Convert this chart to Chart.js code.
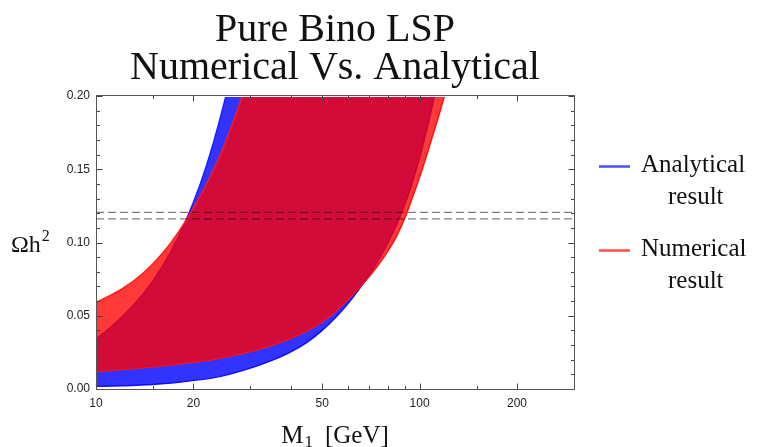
<!DOCTYPE html>
<html>
<head>
<meta charset="utf-8">
<title>Pure Bino LSP</title>
<script src="https://cdn.jsdelivr.net/npm/chart.js@4.4.1/dist/chart.umd.min.js"></script>
<style>
  html, body { margin: 0; padding: 0; background: #fff; }
  #wrap { width: 761px; height: 447px; }
</style>
</head>
<body>
<div id="wrap"><canvas id="relic" width="761" height="447"></canvas></div>
<script>
"use strict";
// Relic density band for a pure bino LSP: analytical vs numerical Omega h^2 against M1.
// Each band is bounded by an upper and a lower curve; where the upper curve leaves the
// frame the band boundary runs along the top of the plot (y = Y_MAX).

const X_MIN = 10, X_MAX = 300, Y_MIN = 0, Y_MAX = 0.2;

// analytical band (blue)
const blueUpperX = [10, 11, 12, 13, 14, 15, 16, 17, 18, 19, 20, 21, 22, 23, 24, 25.2, 111.3];
const blueUpperY = [0.034, 0.0415, 0.049, 0.0568, 0.065, 0.0738, 0.0833, 0.0935, 0.1043, 0.1156, 0.1274, 0.1399, 0.1532, 0.1672, 0.182, 0.200, 0.200];
const blueLowerX = [10, 12, 15, 18, 20, 23, 26, 30, 35, 40, 45, 50, 55, 60, 65, 70, 75, 80, 85, 90, 95, 100, 105, 111.3];
const blueLowerY = [0.0018, 0.0022, 0.0031, 0.0046, 0.0058, 0.0076, 0.0102, 0.0142, 0.0195, 0.0253, 0.0320, 0.0400, 0.0488, 0.0582, 0.0680, 0.0783, 0.0890, 0.1003, 0.1125, 0.1260, 0.1410, 0.1578, 0.1760, 0.2000];

// numerical band (red)
const redUpperX = [10, 11, 12, 13, 14, 15, 16, 17, 18, 19, 20, 21, 22, 23, 24, 25, 26, 27, 28.35, 119.4];
const redUpperY = [0.059, 0.0635, 0.0682, 0.0734, 0.0792, 0.0855, 0.0923, 0.0996, 0.1073, 0.1153, 0.1235, 0.1318, 0.1403, 0.1490, 0.1580, 0.1673, 0.1769, 0.1868, 0.200, 0.200];
const redLowerX = [10, 12, 15, 18, 20, 23, 26, 30, 35, 40, 45, 50, 55, 60, 65, 70, 75, 80, 85, 90, 95, 100, 105, 110, 115, 119.4];
const redLowerY = [0.0121, 0.0132, 0.0151, 0.0170, 0.0183, 0.0201, 0.0224, 0.0256, 0.0298, 0.0345, 0.0398, 0.0458, 0.0530, 0.0610, 0.0690, 0.0770, 0.0855, 0.0945, 0.1045, 0.1165, 0.1305, 0.1445, 0.1590, 0.1735, 0.1875, 0.2000];

// observed relic density window (dashed)
const relicLines = [0.1161, 0.1206];

// axes
const xTicks = [10, 20, 50, 100, 200];
const xMinorTicks = [15, 30, 40, 60, 70, 80, 90, 150, 300];
const yTicks = [0, 0.05, 0.10, 0.15, 0.20];
const yMinorTicks = [0.01, 0.02, 0.03, 0.04, 0.06, 0.07, 0.08, 0.09, 0.11, 0.12, 0.13, 0.14, 0.16, 0.17, 0.18, 0.19];

const titleLines = ["Pure Bino LSP", "Numerical Vs. Analytical"];
const legendLabels = [["Analytical", "result"], ["Numerical", "result"]];
const legendColors = ["#4d4dff", "#ff4d4d"];

const SERIF = "'Liberation Serif', 'Times New Roman', serif";
const SANS = "'Liberation Sans', Arial, sans-serif";

const pts = (xs, ys) => xs.map((x, i) => ({ x, y: ys[i] }));

function bandEdge(data, stroke, fill, order, smooth) {
  return {
    data, order, showLine: true, pointRadius: 0, pointHoverRadius: 0,
    borderColor: stroke, borderWidth: 1.4,
    backgroundColor: fill || "rgba(0,0,0,0)",
    fill: fill ? "+1" : false,
    cubicInterpolationMode: smooth ? "monotone" : "default",
    // keep the stroke off the stretch that runs along the top of the frame
    clip: { left: 0, top: -1, right: 0, bottom: 0 },
  };
}

function dashed(y) {
  return {
    data: [{ x: X_MIN, y }, { x: X_MAX, y }], order: 0, showLine: true, pointRadius: 0,
    borderColor: "rgba(0,0,0,0.5)", borderWidth: 1.2, borderDash: [8, 4], fill: false,
  };
}

// frame with inward ticks on all four sides
const frame = {
  id: "frame",
  afterDatasetsDraw(chart) {
    const { ctx, chartArea: a, scales: { x, y } } = chart;
    const L = a.left + 0.5, R = a.right + 0.5, T = a.top - 0.5, B = a.bottom + 0.5;
    ctx.save();
    ctx.strokeStyle = "#444";
    ctx.lineWidth = 1;
    ctx.beginPath();
    const xt = (v, len) => { const p = Math.round(x.getPixelForValue(v)) + 0.5; ctx.moveTo(p, B); ctx.lineTo(p, B - len); ctx.moveTo(p, T); ctx.lineTo(p, T + len); };
    const yt = (v, len) => { const p = Math.round(y.getPixelForValue(v)) + 0.5; ctx.moveTo(L, p); ctx.lineTo(L + len, p); ctx.moveTo(R, p); ctx.lineTo(R - len, p); };
    xTicks.forEach(v => xt(v, 6));
    xMinorTicks.forEach(v => xt(v, 3.5));
    yTicks.forEach(v => yt(v, 6));
    yMinorTicks.forEach(v => yt(v, 3.5));
    ctx.stroke();
    ctx.strokeStyle = "#555";
    ctx.strokeRect(L, T, R - L, B - T);
    ctx.restore();
  },
};

// axis titles (with sub/superscripts) and the two-line legend on the right
const annotations = {
  id: "annotations",
  afterDraw(chart) {
    const { ctx, chartArea: a } = chart;
    ctx.save();
    ctx.fillStyle = "#111";
    ctx.textBaseline = "alphabetic";
    ctx.textAlign = "left";

    // x title: M_1 [GeV]
    const big = "25px " + SERIF, small = "17px " + SERIF;
    ctx.font = big;
    const wM = ctx.measureText("M").width, wG = ctx.measureText("[GeV]").width;
    ctx.font = small;
    const w1 = ctx.measureText("1").width;
    const gap = 12;
    let cx = (a.left + a.right) / 2 - (wM + 1 + w1 + gap + wG) / 2;
    ctx.font = big; ctx.fillText("M", cx, 443);
    cx += wM + 1;
    ctx.font = small; ctx.fillText("1", cx, 447);
    cx += w1 + gap;
    ctx.font = big; ctx.fillText("[GeV]", cx, 443);

    // y title: Omega h^2
    ctx.font = "24px " + SERIF;
    ctx.fillText("\u03A9h", 11, 252);
    const wO = ctx.measureText("\u03A9h").width;
    ctx.font = "16px " + SERIF;
    ctx.fillText("2", 11 + wO + 1, 241);

    // legend
    legendLabels.forEach((lines, i) => {
      const ly = 166.5 + i * 84;
      ctx.strokeStyle = legendColors[i];
      ctx.lineWidth = 2.5;
      ctx.beginPath(); ctx.moveTo(599, ly); ctx.lineTo(630, ly); ctx.stroke();
      ctx.font = "25px " + SERIF;
      ctx.fillText(lines[0], 641, ly + 5.5);
      ctx.fillText(lines[1], 668, ly + 37);
    });
    ctx.restore();
  },
};

new Chart(document.getElementById("relic"), {
  type: "scatter",
  data: {
    datasets: [
      dashed(relicLines[0]),
      dashed(relicLines[1]),
      bandEdge(pts(redUpperX, redUpperY), "#ff1a1a", "rgba(255,0,0,0.78)", 1, false),
      bandEdge(pts(redLowerX, redLowerY), "#ff1a1a", null, 1, true),
      bandEdge(pts(blueUpperX, blueUpperY), "#1a1aff", "rgba(0,0,255,0.8)", 2, false),
      bandEdge(pts(blueLowerX, blueLowerY), "#1a1aff", null, 2, true),
    ],
  },
  options: {
    responsive: false,
    animation: false,
    events: [],
    layout: { padding: { left: 0, right: 187, top: 0, bottom: 0 } },
    plugins: {
      legend: { display: false },
      tooltip: { enabled: false },
      title: {
        display: true, fullSize: false, text: titleLines, color: "#111",
        font: { family: SERIF, size: 40, weight: "normal", lineHeight: 0.95 },
        padding: { top: 11, bottom: 9 },
      },
    },
    scales: {
      x: {
        type: "logarithmic", min: X_MIN, max: X_MAX,
        grid: { display: false, drawTicks: false }, border: { display: false },
        afterBuildTicks: (s) => { s.ticks = xTicks.map(v => ({ value: v })); },
        afterFit: (s) => { s.height = 58; },
        ticks: { autoSkip: false, maxRotation: 0, padding: 7, color: "#222", font: { family: SANS, size: 12 }, callback: (v) => String(v) },
      },
      y: {
        min: Y_MIN, max: Y_MAX,
        grid: { display: false, drawTicks: false }, border: { display: false },
        afterBuildTicks: (s) => { s.ticks = yTicks.map(v => ({ value: v })); },
        afterFit: (s) => { s.width = 96; },
        ticks: { autoSkip: false, padding: 6, color: "#222", font: { family: SANS, size: 12 }, callback: (v) => v.toFixed(2) },
      },
    },
  },
  plugins: [frame, annotations],
});
</script>
</body>
</html>
